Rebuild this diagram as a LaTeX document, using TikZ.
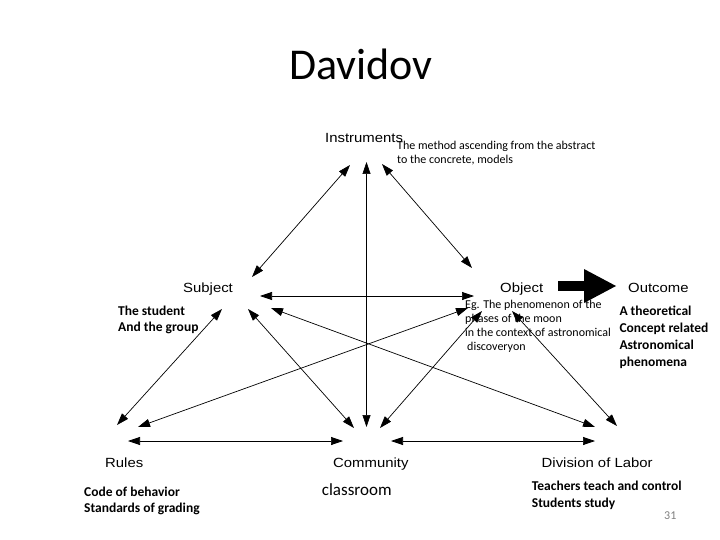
\documentclass[tikz,border=0pt]{standalone}
\usepackage{fontspec}
\setmainfont{Carlito}
\newfontfamily\labelfont[FakeStretch=1.12]{Liberation Sans}
\usetikzlibrary{arrows.meta}
\tikzset{
    vertex/.style={anchor=base west, inner sep=0pt, font=\labelfont\fontsize{13.3}{15}\selectfont},
    % multi-line notes sit on the baseline of their last line
    note/.style={anchor=base west, inner sep=0pt, align=left, font=\fontsize{12}{13.6}\selectfont},
    boldnote/.style={anchor=base west, inner sep=0pt, align=left, font=\bfseries\fontsize{13.5}{17}\selectfont},
    link/.style={<->, >={Triangle[length=12pt,width=8pt]}, line width=0.7pt},
}

\begin{document}
\begin{tikzpicture}[x=1pt,y=-1pt]
    \useasboundingbox (0,0) rectangle (720,540);
    % title
    \node[anchor=base, inner sep=0pt, font=\fontsize{44}{50}\selectfont] (title) at (361,80) {Davidov};
    % the six corners
    \node[vertex] (inst) at (325,142.7) {Instruments};
    \node[vertex] (subj) at (183,292) {Subject};
    \node[vertex] (obj) at (500,292) {Object};
    \node[vertex] (out) at (628,292) {Outcome};
    \node[vertex] (rules) at (105,467) {Rules};
    \node[vertex] (comm) at (333,467) {Community};
    \node[vertex] (div) at (541.5,467) {Division of Labor};
    % notes
    \node[note, font=\fontsize{12}{13.3}\selectfont] (instnote) at (397,163.3) {The method ascending from the abstract\\to the concrete, models};
    \node[boldnote, font=\bfseries\fontsize{13.5}{16.7}\selectfont] (subjnote) at (118,331.7) {The student\\And the group};
    \node[note, font=\fontsize{12}{14}\selectfont] (objnote) at (465,350.3) {Eg. The phenomenon of the\\phases of the moon\\in the context of astronomical\\\hspace{2pt}discoveryon};
    \node[boldnote, font=\bfseries\fontsize{13.5}{17.2}\selectfont] (outnote) at (619.3,366.7) {A theoretical\\Concept related\\Astronomical\\phenomena};
    \node[boldnote, font=\bfseries\fontsize{13.5}{16.7}\selectfont] (rulesnote) at (84,512.7) {Code of behavior\\Standards of grading};
    \node[note, font=\fontsize{17}{20}\selectfont] (commnote) at (321.7,495) {classroom};
    \node[boldnote, font=\bfseries\fontsize{13.5}{17.3}\selectfont] (divnote) at (531.7,507.3) {Teachers teach and control\\Students study};
    \node[anchor=base west, inner sep=0pt, text=gray, font=\fontsize{12}{14}\selectfont] (page) at (664,519.3) {31};
    % arrow ends
    \coordinate (inst-s) at (350,165);
    \coordinate (inst-c) at (366.5,162);
    \coordinate (inst-o) at (382,164);
    \coordinate (subj-i) at (252,277);
    \coordinate (subj-o) at (260,296);
    \coordinate (subj-r) at (222,309);
    \coordinate (subj-c) at (248,309);
    \coordinate (subj-d) at (271,308);
    \coordinate (obj-i) at (472,268);
    \coordinate (obj-s) at (474,296);
    \coordinate (obj-r) at (468,308);
    \coordinate (obj-c) at (482,311);
    \coordinate (obj-d) at (512,311);
    \coordinate (rules-s) at (117,425);
    \coordinate (rules-o) at (138,427);
    \coordinate (rules-c) at (128,441);
    \coordinate (comm-s) at (354,428);
    \coordinate (comm-i) at (366.5,427);
    \coordinate (comm-o) at (380,428);
    \coordinate (comm-r) at (343,441);
    \coordinate (comm-d) at (391,441);
    \coordinate (div-s) at (595,427);
    \coordinate (div-o) at (617,426);
    \coordinate (div-c) at (595,441);
    \coordinate (obj-out) at (558,286);
    \coordinate (out-in) at (616,286);
    % links
    \draw[link] (inst-s) -- (subj-i);
    \draw[link] (inst-c) -- (comm-i);
    \draw[link] (inst-o) -- (obj-i);
    \draw[link] (subj-o) -- (obj-s);
    \draw[link] (subj-r) -- (rules-s);
    \draw[link] (subj-c) -- (comm-s);
    \draw[link] (subj-d) -- (div-s);
    \draw[link] (obj-r) -- (rules-o);
    \draw[link] (obj-c) -- (comm-o);
    \draw[link] (obj-d) -- (div-o);
    \draw[link] (rules-c) -- (comm-r);
    \draw[link] (comm-d) -- (div-c);
    % object to outcome
    \draw[line width=10pt, -{Triangle[length=32pt,width=34pt,line width=0pt]}] (obj-out) -- (out-in);
\end{tikzpicture}
\end{document}
